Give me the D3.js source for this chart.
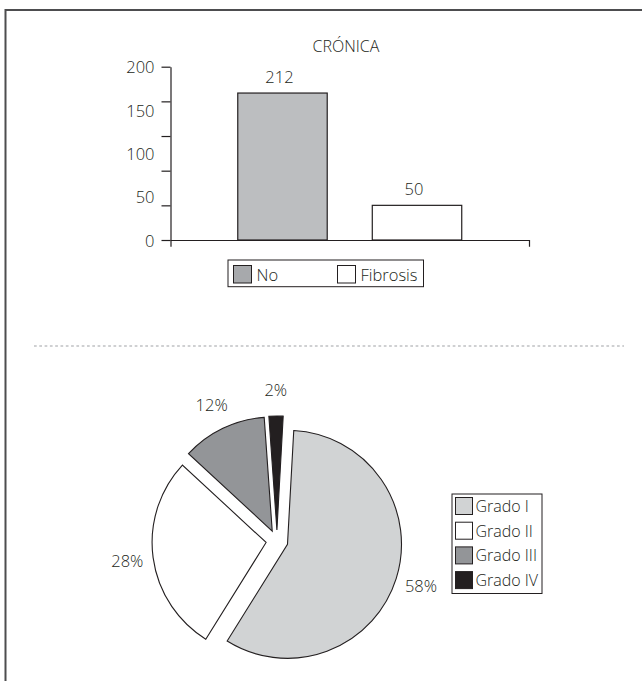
<!DOCTYPE html>
<html>
<head>
<meta charset="utf-8">
<script src="https://cdn.jsdelivr.net/npm/d3@7"></script>
<style>
  html, body { margin: 0; padding: 0; background: #fff; }
  svg { display: block; }
  text { font-family: "Open Sans", "Liberation Sans", sans-serif; font-weight: 300; fill: #231f20; }
</style>
</head>
<body>
<svg id="chart" width="642" height="681"></svg>
<script>
// Fibrosis crónica: casos con y sin fibrosis
const barTitle = "CRÓNICA";
const barCategories = ["No", "Fibrosis"];
const barValues = [212, 50];
const barColors = ["#bcbec0", "#ffffff"];
const yTickLabels = [0, 50, 100, 150, 200];

// Distribución por grado de fibrosis (%)
const pieCategories = ["Grado I", "Grado II", "Grado III", "Grado IV"];
const pieValues = [58, 28, 12, 2];
const pieColors = ["#d1d3d4", "#ffffff", "#939598", "#231f20"];

const svg = d3.select("#chart");
const ink = "#231f20";

// Page frame (top and left rules) and dotted separator
svg.append("line").attr("x1", 5).attr("x2", 642).attr("y1", 10).attr("y2", 10)
  .attr("stroke", "#4d4d4f").attr("stroke-width", 2);
svg.append("line").attr("x1", 5.5).attr("x2", 5.5).attr("y1", 9).attr("y2", 681)
  .attr("stroke", "#4d4d4f").attr("stroke-width", 2);
svg.append("line").attr("x1", 34).attr("x2", 624).attr("y1", 346).attr("y2", 346)
  .attr("stroke", "#cfd0d2").attr("stroke-width", 2).attr("stroke-dasharray", "2.7,2.6");

// ---------- Bar chart ----------
const plot = { left: 170.5, right: 529, top: 66.7, bottom: 240 };

const x = d3.scaleBand()
  .domain(barCategories)
  .range([plot.left, plot.right])
  .paddingInner(0.335)
  .paddingOuter(0.5);

const y = d3.scaleLinear().domain([0, 250]).range([plot.bottom, plot.top]);
// Printed tick labels spread along the full axis height
const yLabel = d3.scaleLinear().domain([0, 200]).range([plot.bottom, plot.top]);

svg.append("text")
  .attr("x", 346).attr("y", 52)
  .attr("text-anchor", "middle")
  .style("font-size", "16px")
  .text(barTitle);

const bars = svg.append("g");
bars.selectAll("rect")
  .data(barValues)
  .join("rect")
  .attr("x", (d, i) => x(barCategories[i]))
  .attr("y", d => y(d))
  .attr("width", x.bandwidth())
  .attr("height", d => y(0) - y(d))
  .attr("fill", (d, i) => barColors[i])
  .attr("stroke", ink)
  .attr("stroke-width", 1.2);

bars.selectAll("text.value")
  .data(barValues)
  .join("text")
  .attr("class", "value")
  .attr("x", (d, i) => x(barCategories[i]) + x.bandwidth() / 2 - 3)
  .attr("y", d => y(d) - 10)
  .attr("text-anchor", "middle")
  .style("font-size", "16.5px")
  .text(d => d);

// Y axis: tick marks from the value scale, labels from the printed scale
const yAxis = svg.append("g")
  .attr("transform", `translate(${plot.left},0)`)
  .call(d3.axisLeft(y).ticks(5).tickSizeInner(9).tickSizeOuter(0).tickFormat(""));
yAxis.selectAll("path, line").attr("stroke", ink).attr("stroke-width", 1.2);

svg.append("g").selectAll("text")
  .data(yTickLabels)
  .join("text")
  .attr("x", plot.left - 16)
  .attr("y", d => yLabel(d) + 1)
  .attr("dy", "0.35em")
  .attr("text-anchor", "end")
  .style("font-size", "16.5px")
  .text(d => d);

// X axis: baseline with end ticks only
const xAxis = svg.append("g")
  .attr("transform", `translate(0,${plot.bottom})`)
  .call(d3.axisBottom(x).tickSizeInner(0).tickSizeOuter(6.7).tickFormat(""));
xAxis.selectAll(".tick").remove();
xAxis.select("path").attr("stroke", ink).attr("stroke-width", 1.2);

// Bar legend
const barLegend = svg.append("g").attr("transform", "translate(228,260)");
barLegend.append("rect")
  .attr("width", 195.5).attr("height", 26.7)
  .attr("fill", "#fff").attr("stroke", ink).attr("stroke-width", 1);
const bli = barLegend.selectAll("g.item")
  .data(barCategories)
  .join("g")
  .attr("class", "item")
  .attr("transform", (d, i) => `translate(${5.5 + i * 104},5.5)`);
bli.append("rect")
  .attr("width", 18).attr("height", 17.5)
  .attr("fill", (d, i) => barColors[i] === "#ffffff" ? "#fff" : "#a7a9ac")
  .attr("stroke", ink).attr("stroke-width", 1);
bli.append("text")
  .attr("x", 23).attr("y", 15)
  .style("font-size", "16.5px")
  .text(d => d);

// ---------- Pie chart ----------
const cx = 277, cy = 541, radius = 114, explode = 11;

const pie = d3.pie()
  .sort(null)
  .startAngle(0.055)
  .endAngle(0.055 + 2 * Math.PI);
const arcs = pie(pieValues);
const arc = d3.arc().innerRadius(0).outerRadius(radius);

const offset = (a, r) => {
  const m = (a.startAngle + a.endAngle) / 2;
  return [Math.sin(m) * r, -Math.cos(m) * r];
};

const slices = svg.append("g").attr("transform", `translate(${cx},${cy})`);
slices.selectAll("path")
  .data(arcs)
  .join("path")
  .attr("d", arc)
  .attr("transform", d => { const [dx, dy] = offset(d, explode); return `translate(${dx},${dy})`; })
  .attr("fill", (d, i) => pieColors[i])
  .attr("stroke", ink)
  .attr("stroke-width", 1.1);

slices.selectAll("text")
  .data(arcs)
  .join("text")
  .attr("x", d => offset(d, explode)[0] + offset(d, 140)[0])
  .attr("y", d => offset(d, explode)[1] + offset(d, 140)[1])
  .attr("dy", "0.35em")
  .attr("text-anchor", "middle")
  .style("font-size", "16.5px")
  .text(d => d.data + "%");

// Pie legend
const pieLegend = svg.append("g").attr("transform", "translate(452,494)");
pieLegend.append("rect")
  .attr("width", 90).attr("height", 99.5)
  .attr("fill", "#fff").attr("stroke", ink).attr("stroke-width", 1);
const pli = pieLegend.selectAll("g.item")
  .data(pieCategories)
  .join("g")
  .attr("class", "item")
  .attr("transform", (d, i) => `translate(3.5,${3.5 + i * 24.7})`);
pli.append("rect")
  .attr("width", 17).attr("height", 17)
  .attr("fill", (d, i) => pieColors[i])
  .attr("stroke", ink).attr("stroke-width", 1);
pli.append("text")
  .attr("x", 20).attr("y", 14.5)
  .style("font-size", "16px")
  .text(d => d);
</script>
</body>
</html>
